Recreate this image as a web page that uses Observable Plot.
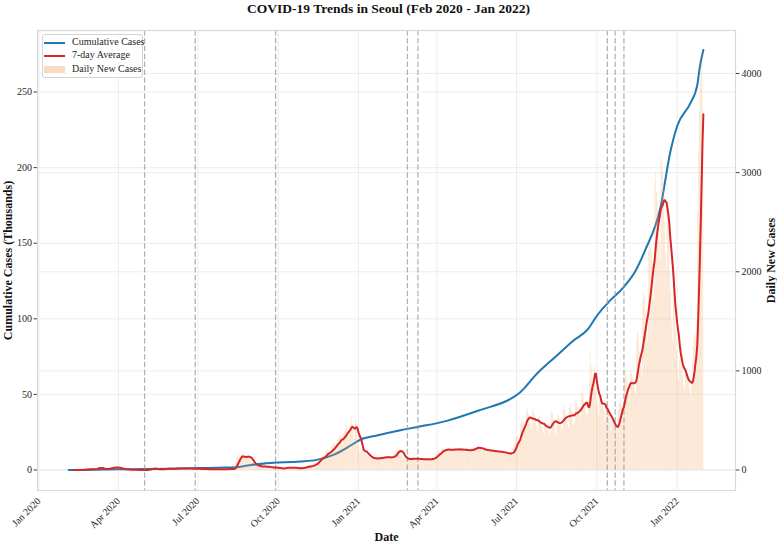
<!DOCTYPE html>
<html>
<head>
<meta charset="utf-8">
<script src="https://cdn.jsdelivr.net/npm/d3@7"></script>
<script src="https://cdn.jsdelivr.net/npm/@observablehq/plot@0.6"></script>
<style>
  body { margin: 0; background: #fff; font-family: "Liberation Serif", "Times New Roman", serif; }
  #wrap { position: relative; width: 777px; height: 543px; overflow: hidden; background: #fff; }
  #title { height: 20px; line-height: 17px; text-align: center; font-weight: bold; font-size: 13.5px; color: #111; }
  #legend { position: absolute; left: 42px; top: 34px; width: 101px; height: 44px; box-sizing: border-box;
            border: 1px solid #d4d4d4; border-radius: 3px; background: rgba(255,255,255,0.8); font-size: 10px; color: #262626; }
  .sw { position: absolute; left: 1px; width: 21px; }
  .lb { position: absolute; left: 29px; line-height: 12px; white-space: nowrap; }
  svg text { font-family: "Liberation Serif", "Times New Roman", serif; }
  svg [aria-label$="axis label"] text { font-weight: bold; font-size: 12px; fill: #111; }
</style>
</head>
<body>
<div id="wrap">
  <div id="title">COVID-19 Trends in Seoul (Feb 2020 - Jan 2022)</div>
  <div id="chart"></div>
  <div id="legend"></div>
</div>
<script>
// ---- Daily new cases, grouped by month: [first date, values] ----
const daily2020 = [
  ["2020-02-04", [1,0,1,0,0,0,0,1,0,0,0,0,1,0,1,2,3,4,6,5,4,8,6,7,9,7]],
  ["2020-03-01", [8,6,7,9,10,8,12,25,30,28,22,15,12,10,9,8,11,10,12,14,15,18,20,22,25,24,28,26,30,22,25]],
  ["2020-04-01", [20,18,15,14,10,8,9,7,6,5,5,4,3,4,3,2,3,2,1,2,1,1,2,1,0,1,2,1,0,1]],
  ["2020-05-01", [1,0,1,1,2,3,10,18,20,15,12,14,10,8,6,5,8,6,5,7,9,11,10,12,9,8,15,18,14,12,10]],
  ["2020-06-01", [12,14,16,13,15,18,20,17,15,14,16,18,14,12,10,14,16,18,20,15,12,10,11,14,13,12,15,17,14,12]],
  ["2020-07-01", [10,12,11,9,8,10,12,9,8,10,7,6,8,9,10,7,6,5,8,9,7,6,5,8,10,9,7,6,8,9,10]],
  ["2020-08-01", [8,7,6,10,9,12,14,10,8,9,12,20,40,70,140,150,110,140,150,135,140,130,125,110,130,150,145,155,120,100,85]],
  ["2020-09-01", [75,70,60,50,45,40,35,38,42,40,36,32,30,28,35,40,38,34,30,28,25,22,26,30,28,24,20,22,25,20]],
  ["2020-10-01", [20,18,15,22,12,10,15,20,25,28,30,25,18,20,22,24,26,28,20,15,18,22,20,18,15,12,18,20,25,28,30]],
  ["2020-11-01", [30,28,32,35,40,38,42,40,45,50,55,60,65,75,80,95,110,120,130,125,140,135,120,150,180,190,200,190,170,160]],
  ["2020-12-01", [200,230,260,250,260,250,240,280,300,320,340,340,320,250,330,380,400,420,450,400,320,420,440,550,480,400,320,310,500,460,440]]
];
const daily2021 = [
  ["2021-01-01", [240,200,180,190,220,200,190,180,170,160,150,140,135,130,120,125,110,100,120,130,125,120,115,110,105,120,140,135,130,125,120]],
  ["2021-02-01", [115,130,140,135,130,125,120,110,140,150,155,160,170,180,200,230,210,190,160,140,130,120,110,115,120,110,105,110]],
  ["2021-03-01", [100,115,120,118,125,110,105,100,120,125,115,110,105,100,95,110,120,115,110,105,100,95,110,115,120,118,115,110,120,140,150]],
  ["2021-04-01", [160,170,180,175,160,190,210,220,215,205,190,185,210,220,215,205,200,190,185,215,225,220,210,205,195,190,210,220,215,210]],
  ["2021-05-01", [200,190,185,210,215,205,200,195,185,190,215,220,225,230,220,210,215,240,235,225,215,205,195,200,215,210,205,200,190,185,195]],
  ["2021-06-01", [200,205,195,190,185,180,175,195,200,190,185,180,170,165,190,185,180,175,165,160,155,170,165,175,180,185,175,200,250,280]],
  ["2021-07-01", [320,340,330,280,300,450,480,500,470,480,420,460,630,600,560,550,480,400,420,620,580,550,500,460,400,380,560,540,500,480,430]],
  ["2021-08-01", [380,350,480,500,460,440,400,350,380,560,600,560,520,450,380,350,520,560,540,510,470,420,400,600,650,600,560,500,460,420,620]],
  ["2021-09-01", [660,620,580,500,450,480,700,680,640,620,560,520,550,800,780,740,680,620,580,550,560,700,900,1200,1050,900,800,900,1050,900]],
  ["2021-10-01", [700,650,580,550,800,700,720,700,620,580,480,600,640,600,560,520,450,400,480,500,470,440,400,380,370,600,680,720,680,650,620]],
  ["2021-11-01", [500,900,1000,950,900,850,750,700,1000,980,950,900,850,800,750,1300,1400,1350,1200,1150,1050,950,1700,1800,1750,1600,1550,1400,1300,2200]],
  ["2021-12-01", [2300,2250,2200,2100,1950,1700,2900,3000,2800,2700,2500,2300,2100,3150,3100,3000,2900,2500,2200,2000,2700,2700,2400,2000,1800,1500,1300,1800,1700,1500,1400]]
];
const daily2022 = [
  ["2022-01-01", [1200,1000,900,1100,1200,1150,1050,950,850,800,950,1000,950,900,850,800,750,900,1100,1250,1350,1400,1300,1500,2600,3200,3600,3900,4100,4228,3500]]
];

// ---- Cumulative cases (thousands) ----
const cumDates = ["2020-02-04","2020-03-01","2020-04-01","2020-05-01","2020-06-01","2020-07-01","2020-08-01","2020-08-14",
  "2020-08-27","2020-09-18","2020-10-26","2020-11-14","2020-12-04","2020-12-23","2021-01-03","2021-01-22","2021-02-18",
  "2021-03-10","2021-04-12","2021-05-20","2021-06-27","2021-07-05","2021-07-24","2021-08-16","2021-09-04","2021-09-21",
  "2021-10-01","2021-10-16","2021-10-31","2021-11-15","2021-11-25","2021-12-13","2021-12-24","2022-01-01","2022-01-16",
  "2022-01-24","2022-01-27","2022-01-31"];
const cumThousands = [0.0,0.1,0.45,0.63,0.9,1.3,1.6,1.9,
  3.0,4.5,5.6,6.7,10.2,16.2,20.0,22.8,26.3,
  28.5,32.5,39.6,48.0,51.3,63.5,75.6,85.5,93.3,
  102,112,120.5,132.5,145,174,210,227.5,242.5,
  254.6,266.8,277.8];

// ---- Event markers (dashed lines) ----
const eventDates = ["2020-05-01","2020-06-28","2020-09-28","2021-02-26","2021-03-10","2021-10-13","2021-10-22","2021-11-01"];

// ---- Axes ----
const xTickDates = ["2020-01-01","2020-04-01","2020-07-01","2020-10-01","2021-01-01","2021-04-01","2021-07-01","2021-10-01","2022-01-01"];
const leftTicks = [0, 50, 100, 150, 200, 250];
const rightTicks = [0, 1000, 2000, 3000, 4000];
const leftDomain = [-13.56, 290.7];     // thousands
const rightDomainMax = 4434;            // daily cases at top of the right axis
const xDomain = ["2019-12-30T07:12:00Z", "2022-03-08T19:12:00Z"];

// ---- Build tables ----
const factor = leftDomain[1] / rightDomainMax;
const DAY = 864e5;
const rows = [];
for (const [start, vals] of [...daily2020, ...daily2021, ...daily2022]) {
  const s = new Date(start + "T00:00:00Z").getTime();
  vals.forEach((v, i) => rows.push({date: new Date(s + i * DAY), cases: v}));
}
const cum = cumDates.map((d, i) => ({date: new Date(d + "T00:00:00Z"), k: cumThousands[i]}));
const events = eventDates.map(d => new Date(d + "T00:00:00Z"));
const xTicks = xTickDates.map(d => new Date(d + "T00:00:00Z"));
const rightTicksScaled = rightTicks.map(t => t * factor);

const fmt = d3.utcFormat("%b %Y");

const chart = Plot.plot({
  width: 777,
  height: 523,
  marginTop: 10,
  marginBottom: 53,
  marginLeft: 37,
  marginRight: 42,
  style: {fontFamily: "Liberation Serif, Times New Roman, serif", fontSize: "10px", color: "#262626", background: "#fff"},
  x: {type: "utc", domain: xDomain.map(d => new Date(d))},
  y: {domain: leftDomain},
  marks: [
    Plot.gridX(xTicks, {stroke: "#e8e8e8", strokeOpacity: 1, strokeWidth: 0.8}),
    Plot.gridY([...leftTicks, ...rightTicksScaled], {stroke: "#e8e8e8", strokeOpacity: 1, strokeWidth: 0.8}),
    Plot.lineY(cum, {x: "date", y: "k", stroke: "#1f77b4", strokeWidth: 2, curve: "monotone-x"}),
    Plot.rectY(rows, {
      x1: d => new Date(d.date.getTime() - 0.42 * DAY),
      x2: d => new Date(d.date.getTime() + 0.42 * DAY),
      y: d => d.cases * factor,
      fill: "#f4a460", fillOpacity: 0.3
    }),
    Plot.ruleX(events, {stroke: "#9a9a9a", strokeOpacity: 0.75, strokeWidth: 1.3, strokeDasharray: "5.5,2.4"}),
    Plot.lineY(rows, Plot.windowY({k: 7, anchor: "end", strict: true, reduce: "mean"},
      {x: "date", y: d => d.cases * factor, stroke: "#d62728", strokeWidth: 2})),
    Plot.frame({stroke: "#d9d9d9", strokeWidth: 1.2}),
    Plot.axisX(xTicks, {tickFormat: fmt, tickRotate: -45, tickSize: 0, tickPadding: 9,
      label: "Date", labelArrow: "none", labelAnchor: "center", labelOffset: 50}),
    Plot.axisY(leftTicks, {anchor: "left", tickSize: 3.5, tickPadding: 2, stroke: "#444",
      label: "Cumulative Cases (Thousands)", labelArrow: "none", labelAnchor: "center", labelOffset: 34}),
    Plot.axisY(rightTicksScaled, {anchor: "right", tickSize: 3.5, tickPadding: 2.5, stroke: "#444",
      tickFormat: d => String(Math.round(d / factor)),
      label: "Daily New Cases", labelArrow: "none", labelAnchor: "center", labelOffset: 39})
  ]
});
document.getElementById("chart").appendChild(chart);

// Tidy axis labels: drop arrows, make the right label read bottom-to-top like the left one
chart.querySelectorAll('[aria-label$="axis label"] text').forEach(t => {
  t.textContent = t.textContent.replace(/\s*[\u2190-\u2193]\s*/g, "");
  const tr = t.getAttribute("transform") || "";
  if (/rotate\(90\)/.test(tr)) {
    t.setAttribute("transform", tr.replace("rotate(90)", "rotate(-90)"));
  }
});

// ---- Legend (HTML overlay) ----
const legendItems = [
  {label: "Cumulative Cases", type: "line", color: "#1f77b4"},
  {label: "7-day Average", type: "line", color: "#d62728"},
  {label: "Daily New Cases", type: "patch", color: "#f4a460"}
];
const lg = document.getElementById("legend");
legendItems.forEach((it, i) => {
  const cy = 7.5 + i * 13.3;
  const sw = document.createElement("div");
  sw.className = "sw";
  if (it.type === "line") {
    sw.style.top = (cy - 1) + "px"; sw.style.height = "2px"; sw.style.background = it.color;
  } else {
    sw.style.top = (cy - 3.5) + "px"; sw.style.height = "7px"; sw.style.background = it.color; sw.style.opacity = 0.4;
  }
  lg.appendChild(sw);
  const lb = document.createElement("div");
  lb.className = "lb";
  lb.style.top = (cy - 6.5) + "px";
  lb.textContent = it.label;
  lg.appendChild(lb);
});
</script>
</body>
</html>
